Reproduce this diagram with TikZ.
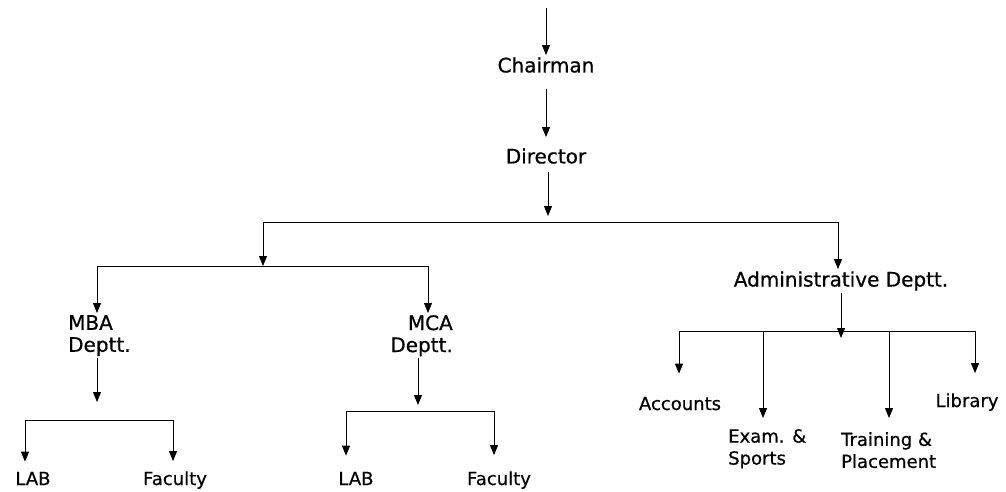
\documentclass[tikz,border=0pt]{standalone}
\usepackage{fontspec}
\setmainfont{DejaVu Sans}[FakeBold=0.6]
\usetikzlibrary{arrows.meta}
\tikzset{
	unit/.style={font=\fontsize{20}{22}\selectfont, inner sep=2pt},
	leaf/.style={font=\fontsize{18}{22}\selectfont, inner sep=3pt, align=left},
	arr/.style={-{Triangle[width=8pt,length=10pt]}, line width=0.9pt},
	bar/.style={line width=0.9pt}
}

\begin{document}
\begin{tikzpicture}[x=1pt,y=-1pt]
	\useasboundingbox (0,0) rectangle (1006,491);
	% top of the chart
	\coordinate (Top) at (546,8);
	\node[unit] (Chair) at (546,65) {Chairman};
	\node[unit] (Dir) at (546,156) {Director};
	\coordinate (DirEnd) at (548,216);
	\coordinate (B1l) at (263,222);
	\coordinate (B1r) at (838,222);
	\coordinate (B2l) at (97,266);
	\coordinate (B2r) at (428,266);

	% departments
	\node[unit, align=left, anchor=north west] (Mba) at (66,313) {MBA\\Deptt.};
	\node[unit, align=right, anchor=north east] (Mca) at (455,313) {MCA\\Deptt.};
	\node[unit] (Adm) at (841,281) {Administrative Deptt.};
	\coordinate (MbaEnd) at (97,402);
	\coordinate (McaEnd) at (418,405);
	\coordinate (AdmEnd) at (841,338);
	\coordinate (B3l) at (25,420);
	\coordinate (B3r) at (173,420);
	\coordinate (B4l) at (346,411);
	\coordinate (B4r) at (494,411);
	\coordinate (B5l) at (679,331);
	\coordinate (B5a) at (763,331);
	\coordinate (B5b) at (889,331);
	\coordinate (B5r) at (975,331);

	% sections
	\node[leaf, anchor=base] (Lab1) at (33,485) {LAB};
	\node[leaf, anchor=base] (Fac1) at (175,485) {Faculty};
	\node[leaf, anchor=base] (Lab2) at (356,485) {LAB};
	\node[leaf, anchor=base] (Fac2) at (499,485) {Faculty};
	\node[leaf, anchor=base] (Acc) at (680,410) {Accounts};
	\node[leaf, anchor=north west] (Exam) at (725,426) {Exam. \&\\Sports};
	\node[leaf, anchor=north west] (Train) at (838,429) {Training \&\\Placement};
	\node[leaf, anchor=base] (Lib) at (967,407) {Library};

	\draw[arr] (Top) -- (Chair);
	\draw[arr, shorten <=14pt, shorten >=9pt] (Chair) -- (Dir);
	\draw[arr, shorten <=6pt] (Dir.south -| DirEnd) -- (DirEnd);
	\draw[bar] (B1l) -- (B1r);
	\draw[arr] (B1l) -- (B1l |- B2l);
	\draw[arr] (B1r) -- (Adm.north -| B1r);

	\draw[bar] (B2l) -- (B2r);
	\draw[arr] (B2l) -- (B2l |- Mba.north);
	\draw[arr] (B2r) -- (B2r |- Mca.north);
	\draw[arr] (Mba.south -| MbaEnd) -- (MbaEnd);
	\draw[arr] (Mca.south -| McaEnd) -- (McaEnd);
	\draw[arr] (Adm.south -| AdmEnd) -- (AdmEnd);

	\draw[bar] (B3l) -- (B3r);
	\draw[arr, shorten >=7pt] (B3l) -- (B3l |- Lab1.north);
	\draw[arr, shorten >=7pt] (B3r) -- (B3r |- Fac1.north);
	\draw[bar] (B4l) -- (B4r);
	\draw[arr, shorten >=13pt] (B4l) -- (B4l |- Lab2.north);
	\draw[arr, shorten >=13pt] (B4r) -- (B4r |- Fac2.north);
	\draw[bar] (B5l) -- (B5r);
	\draw[arr, shorten >=20pt] (B5l) -- (B5l |- Acc.north);
	\draw[arr, shorten >=8pt] (B5a) -- (B5a |- Exam.north);
	\draw[arr, shorten >=11pt] (B5b) -- (B5b |- Train.north);
	\draw[arr, shorten >=17pt] (B5r) -- (B5r |- Lib.north);
\end{tikzpicture}
\end{document}
